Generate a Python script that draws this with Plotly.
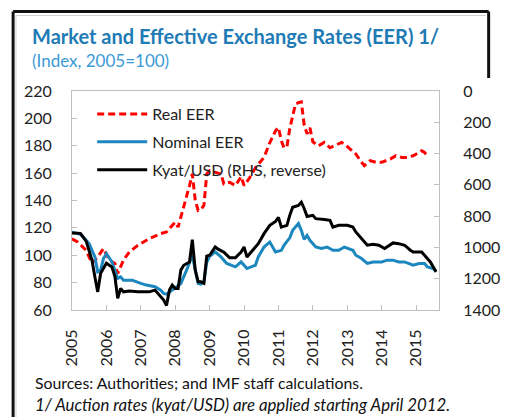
import plotly.graph_objects as go

# ---------------- data ----------------
real_dates = ["2005-01", "2005-03", "2005-06", "2005-08", "2005-10", "2005-12", "2006-02", "2006-04",
              "2006-05", "2006-06", "2006-07", "2006-09", "2006-12", "2007-04", "2007-08", "2007-10",
              "2007-12", "2008-01", "2008-02", "2008-03", "2008-04", "2008-05", "2008-06", "2008-07",
              "2008-08", "2008-09", "2008-10", "2008-11", "2008-12", "2009-01", "2009-03", "2009-05",
              "2009-06", "2009-08", "2009-10", "2009-12", "2010-01", "2010-03", "2010-05", "2010-08",
              "2010-10", "2010-12", "2011-01", "2011-02", "2011-03", "2011-04", "2011-05", "2011-06",
              "2011-07", "2011-08", "2011-09", "2011-10", "2011-11", "2011-12", "2012-01", "2012-03",
              "2012-05", "2012-07", "2012-09", "2012-11", "2012-12", "2013-02", "2013-04", "2013-06",
              "2013-07", "2013-09", "2013-11", "2014-01", "2014-04", "2014-06", "2014-08", "2014-10",
              "2014-12", "2015-02", "2015-03", "2015-04", "2015-05"]
real_eer = [112.1, 109.7, 103.6, 94.0, 98.8, 104.9, 96.4, 94.0,
            86.7, 92.0, 96.4, 102.4, 107.3, 112.1, 115.8, 117.0,
            121.8, 124.2, 120.6, 127.9, 134.0, 141.2, 150.9, 159.4,
            140.0, 132.7, 133.5, 136.4, 159.4, 161.8, 160.6, 159.4,
            152.1, 153.3, 150.9, 157.4, 150.9, 156.6, 163.9, 171.5,
            182.2, 190.9, 193.3, 183.6, 178.5, 179.3, 192.4, 202.6,
            210.5, 211.5, 212.0, 195.3, 188.7, 193.1, 182.9, 180.0,
            182.4, 178.5, 180.7, 182.4, 181.2, 177.6, 174.0, 167.9,
            165.5, 169.1, 167.9, 167.9, 170.3, 172.7, 171.5, 171.5,
            172.7, 175.1, 176.4, 175.1, 172.7]

nominal_dates = ["2005-01", "2005-04", "2005-05", "2005-07", "2005-09", "2005-10", "2005-11", "2005-12",
                 "2006-01", "2006-02", "2006-03", "2006-05", "2006-06", "2006-07", "2006-10", "2007-01",
                 "2007-03", "2007-06", "2007-08", "2007-09", "2007-10", "2007-12", "2008-01", "2008-03",
                 "2008-05", "2008-06", "2008-07", "2008-08", "2008-09", "2008-10", "2008-11", "2008-12",
                 "2009-01", "2009-03", "2009-05", "2009-07", "2009-10", "2009-12", "2010-02", "2010-05",
                 "2010-06", "2010-08", "2010-10", "2010-12", "2011-02", "2011-03", "2011-05", "2011-06",
                 "2011-08", "2011-09", "2011-10", "2011-11", "2011-12", "2012-02", "2012-04", "2012-06",
                 "2012-08", "2012-10", "2012-12", "2013-03", "2013-04", "2013-06", "2013-08", "2013-10",
                 "2014-01", "2014-03", "2014-05", "2014-07", "2014-09", "2014-12", "2015-02", "2015-04",
                 "2015-05", "2015-07", "2015-08"]
nominal_eer = [116.9, 115.3, 113.3, 108.5, 98.8, 87.9, 89.1, 97.6,
               101.2, 97.6, 95.1, 83.1, 84.2, 81.8, 81.8, 79.4,
               78.2, 77.0, 74.5, 72.1, 71.6, 74.5, 76.0, 79.4,
               89.1, 94.2, 100.0, 89.1, 79.4, 78.9, 80.6, 94.9,
               99.3, 102.4, 98.8, 94.0, 91.5, 95.1, 90.3, 92.7,
               98.8, 106.0, 109.7, 102.4, 103.6, 107.3, 112.7, 118.2,
               123.1, 118.2, 111.6, 114.5, 110.9, 106.0, 104.9, 106.0,
               103.6, 103.6, 106.0, 103.6, 100.0, 97.6, 94.0, 95.1,
               95.1, 96.4, 96.4, 95.1, 95.1, 92.7, 94.0, 94.0,
               91.5, 90.3, 87.9]

kyat_dates = ["2005-01", "2005-04", "2005-06", "2005-08", "2005-09", "2005-10", "2005-11", "2006-01",
              "2006-03", "2006-04", "2006-05", "2006-06", "2006-07", "2006-09", "2006-12", "2007-04",
              "2007-06", "2007-07", "2007-09", "2007-10", "2007-11", "2007-12", "2008-01", "2008-02",
              "2008-03", "2008-04", "2008-06", "2008-07", "2008-08", "2008-09", "2008-10", "2008-11",
              "2008-12", "2009-01", "2009-03", "2009-04", "2009-06", "2009-08", "2009-10", "2009-12",
              "2010-01", "2010-02", "2010-04", "2010-06", "2010-08", "2010-10", "2010-12", "2011-01",
              "2011-02", "2011-04", "2011-05", "2011-06", "2011-08", "2011-09", "2011-10", "2011-11",
              "2012-01", "2012-02", "2012-05", "2012-07", "2012-08", "2012-10", "2013-01", "2013-03",
              "2013-04", "2013-06", "2013-08", "2013-10", "2013-12", "2014-02", "2014-04", "2014-05",
              "2014-07", "2014-09", "2014-11", "2014-12", "2015-03", "2015-04", "2015-06", "2015-07",
              "2015-08"]
kyat_usd = [908, 910, 961, 1082, 1189, 1284, 1165, 1101,
            1126, 1184, 1326, 1262, 1284, 1278, 1284, 1284,
            1273, 1294, 1336, 1371, 1273, 1241, 1262, 1262,
            1145, 1114, 1093, 951, 1145, 1220, 1220, 1229,
            1056, 1050, 997, 1011, 1031, 1066, 1066, 1029,
            997, 1061, 1018, 976, 912, 859, 834, 808,
            870, 859, 795, 743, 732, 711, 751, 802,
            795, 816, 821, 827, 870, 859, 859, 870,
            901, 944, 986, 980, 986, 1007, 980, 971,
            976, 986, 1018, 1029, 1029, 1050, 1093, 1124,
            1156]

year_ticks = ["2005", "2006", "2007", "2008", "2009", "2010", "2011", "2012", "2013", "2014", "2015"]

# ---------------- figure ----------------
FONT = "Lato"
fig = go.Figure()
fig.add_trace(go.Scatter(x=real_dates, y=real_eer, name="Real EER", mode="lines",
                         line=dict(color="#FF0000", width=3, dash="7px,4px"), legendgroup="a"))
fig.add_trace(go.Scatter(x=nominal_dates, y=nominal_eer, name="Nominal EER", mode="lines",
                         line=dict(color="#1C87BE", width=3), legendgroup="b"))
fig.add_trace(go.Scatter(x=kyat_dates, y=kyat_usd, name="Kyat/USD (RHS, reverse)", mode="lines",
                         line=dict(color="#000000", width=3), yaxis="y2", legendgroup="c"))

axis_common = dict(showgrid=False, zeroline=False, showline=True, linecolor="#BFBFBF", linewidth=1,
                   ticks="inside", ticklen=5, tickcolor="#BFBFBF",
                   tickfont=dict(family=FONT, size=16, color="#222222"))

fig.update_layout(
    width=512, height=417, autosize=False,
    margin=dict(l=72, r=63, t=91, b=107, pad=0),
    paper_bgcolor="white", plot_bgcolor="white",
    font=dict(family=FONT, color="#222222"),
    xaxis=dict(type="date", range=["2005-01-01", "2015-09-01"],
               tickvals=[y + "-01-01" for y in year_ticks], ticktext=year_ticks,
               tickangle=-90, mirror=True, ticklabelstandoff=12, **axis_common),
    yaxis=dict(range=[60, 220], dtick=20, mirror=True, ticklabelstandoff=16, **axis_common),
    yaxis2=dict(range=[1400, 0], dtick=200, overlaying="y", side="right",
                ticklabelstandoff=20, **axis_common),
    showlegend=True,
    legend=dict(x=0.055, y=0.972, xanchor="left", yanchor="top", bgcolor="rgba(0,0,0,0)",
                font=dict(family=FONT, size=16, color="#222222"), traceorder="grouped",
                tracegroupgap=4, itemwidth=50),
)

W, H = 377.0, 219.0
def px(x):
    return (x - 72) / W
def py(y):
    return (310 - y) / H

fig.add_annotation(text="<b>Market and Effective Exchange Rates (EER) 1/</b>", xref="paper", yref="paper",
                   x=px(29), y=py(36), xanchor="left", yanchor="middle", showarrow=False,
                   font=dict(family=FONT, size=20, color="#1E7BB5"))
fig.add_annotation(text="(Index, 2005=100)", xref="paper", yref="paper",
                   x=px(29), y=py(61), xanchor="left", yanchor="middle", showarrow=False,
                   font=dict(family=FONT, size=17, color="#3A9AD6"))
fig.add_annotation(text="Sources: Authorities; and IMF staff calculations.", xref="paper", yref="paper",
                   x=px(32), y=py(382), xanchor="left", yanchor="middle", showarrow=False,
                   font=dict(family=FONT, size=15.8, color="#111111"))
fig.add_annotation(text="<i>1/ Auction rates (kyat/USD) are applied starting April 2012.</i>",
                   xref="paper", yref="paper",
                   x=px(32), y=py(404), xanchor="left", yanchor="middle", showarrow=False,
                   font=dict(family=FONT, size=16.8, color="#111111"))

# frame around the figure
frame = [
    dict(x0=px(11.5), x1=px(11.5), y0=py(11.5), y1=py(420), color="#111111", w=3),
    dict(x0=px(11.5), x1=px(500), y0=py(11.5), y1=py(11.5), color="#111111", w=3),
    dict(x0=px(500), x1=px(500), y0=py(11.5), y1=py(78), color="#111111", w=3),
    dict(x0=px(14.5), x1=px(14.5), y0=py(15.5), y1=py(420), color="#D0D0D0", w=1),
    dict(x0=px(14.5), x1=px(497), y0=py(15.5), y1=py(15.5), color="#D0D0D0", w=1),
]
for f in frame:
    fig.add_shape(type="line", xref="paper", yref="paper", x0=f["x0"], x1=f["x1"], y0=f["y0"], y1=f["y1"],
                  line=dict(color=f["color"], width=f["w"]), layer="above")

fig.write_html("out.html", config={"displayModeBar": False},
               post_script="document.body.style.margin='0px';document.body.style.overflow='hidden';")
